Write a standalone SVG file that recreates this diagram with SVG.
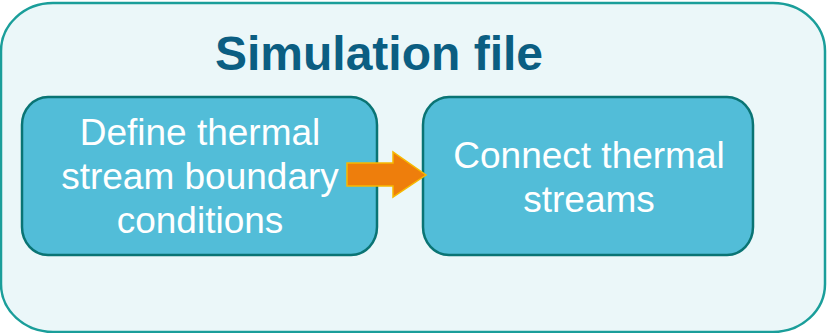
<svg xmlns="http://www.w3.org/2000/svg" width="828" height="333" viewBox="0 0 828 333">
  <style>
    .step { fill: #52BDD8; stroke: #0A7474; stroke-width: 2.5; }
    .label { font-family: "Liberation Sans", Arial, sans-serif; font-size: 37px; fill: #FFFFFF; text-anchor: middle; }
    .title { font-family: "Liberation Sans", Arial, sans-serif; font-size: 48px; font-weight: bold; fill: #0B5E82; text-anchor: middle; }
  </style>
  <rect width="828" height="333" fill="#FFFFFF"/>
  <g id="container">
    <rect x="1" y="3" width="824" height="329" rx="52" ry="48" fill="#EBF7F9" stroke="#1A9E9A" stroke-width="2.5"/>
    <text class="title" x="379" y="70">Simulation file</text>
  </g>
  <g id="define-boundary">
    <rect class="step" x="22" y="97" width="355" height="158" rx="26" ry="28"/>
    <text class="label" x="200" y="145">Define thermal</text>
    <text class="label" x="200" y="189">stream boundary</text>
    <text class="label" x="200" y="233">conditions</text>
  </g>
  <g id="connect-streams">
    <rect class="step" x="423" y="97" width="330" height="158" rx="26" ry="28"/>
    <text class="label" x="589" y="168">Connect thermal</text>
    <text class="label" x="589" y="212">streams</text>
  </g>
  <g id="connectors">
    <polygon points="347,163 393,163 393,152 426,175 393,197 393,186 347,186" fill="#EE7E0C" stroke="#F7B900" stroke-width="1.5"/>
  </g>
</svg>
